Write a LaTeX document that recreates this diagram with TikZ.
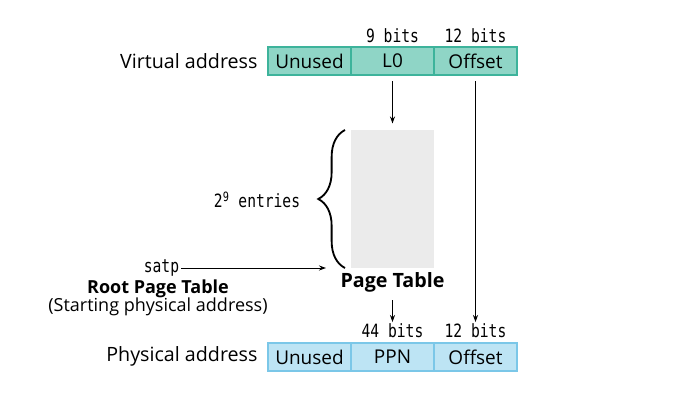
\documentclass[tikz,border=0pt]{standalone}
\usepackage{fontspec}
\setmainfont{Open Sans}
\setmonofont{DejaVu Sans Mono}[FakeStretch=0.8]
\usepackage{tikz}
\usetikzlibrary{arrows.meta, decorations.pathreplacing, positioning}
\definecolor{VirtFill}{HTML}{8FD5C6}
\definecolor{VirtLine}{HTML}{3DB39B}
\definecolor{PhysFill}{HTML}{BDE4F4}
\definecolor{PhysLine}{HTML}{7BC7E8}
\definecolor{TableFill}{HTML}{EBEBEB}
\tikzset{
  field/.style={minimum width=2.075cm, minimum height=0.7cm, inner sep=0pt, outer sep=0pt,
    line width=0.8pt, font=\fontsize{13.5}{16}\selectfont},
  virt/.style={field, draw=VirtLine, fill=VirtFill},
  phys/.style={field, draw=PhysLine, fill=PhysFill},
  bits/.style={font=\ttfamily\fontsize{13}{14}\selectfont, inner sep=1pt},
  rowlabel/.style={anchor=east, font=\fontsize{14}{16}\selectfont, inner sep=0pt},
  caption/.style={font=\fontsize{12.8}{14}\selectfont, inner sep=0pt}
}

\begin{document}
\begin{tikzpicture}[x=0.025cm, y=-0.025cm, line width=0.7pt, >={Stealth[length=5pt, width=3.6pt]}]
        \useasboundingbox (0,0) rectangle (690,400);

        % Virtual address
        \node[rowlabel] (VA) at (258, 61) {Virtual address};
        \node[virt] (vu) at (309.5, 61) {Unused};
        \node[virt] (vl) at (392.5, 61) {L0};
        \node[virt] (vo) at (475.5, 61) {Offset};
        \node[bits] (vlb) at (392.5, 36) {9 bits};
        \node[bits] (vob) at (475.5, 36) {12 bits};

        % Page table
        \node[fill=TableFill, minimum width=2.075cm, minimum height=3.45cm, inner sep=0pt] (pt) at (392.5, 199) {};
        \node[caption, font=\bfseries\fontsize{14}{16}\selectfont] (ptl) at (392.5, 282) {Page Table};
        \draw[decorate, decoration={brace, amplitude=19pt}, line width=1.3pt] (345, 268) -- (345, 130);
        \coordinate (brtip) at (302, 200);
        \node[bits, anchor=east] (ent) at (brtip) {2\textsuperscript{9} entries};
        \coordinate (brbot) at (326, 268);

        % satp
        \node[bits, anchor=east] (satp) at (181, 268) {satp};
        \node[caption, font=\bfseries\fontsize{12.8}{14}\selectfont] (root) at (158, 289) {Root Page Table};
        \node[caption] (start) at (158, 307) {(Starting physical address)};

        % Physical address
        \node[rowlabel] (PA) at (258, 356) {Physical address};
        \node[phys] (pu) at (309.5, 357) {Unused};
        \node[phys] (pn) at (392.5, 357) {PPN};
        \node[phys] (po) at (475.5, 357) {Offset};
        \node[bits] (pnb) at (392.5, 331) {44 bits};
        \node[bits] (pob) at (475.5, 331) {12 bits};

        % Arrows
        \draw[->] ([yshift=-0.15cm]vl.south) -- ([yshift=0.15cm]pt.north);
        \draw[->] ([yshift=-0.15cm]vo.south) -- (pob.north);
        \draw[->] (satp.east) -- (brbot);
        \draw[->] ([yshift=-0.2cm]ptl.south) -- (pnb.north);
    \end{tikzpicture}
\end{document}
